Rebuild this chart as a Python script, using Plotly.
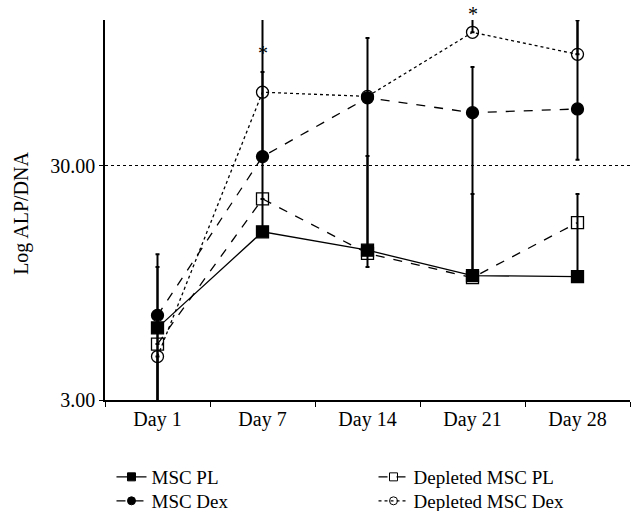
import numpy as np
import plotly.graph_objects as go

days = ["Day 1", "Day 7", "Day 14", "Day 21", "Day 28"]

msc_pl = [6.1, 15.7, 13.1, 10.2, 10.1]
msc_dex = [6.9, 32.9, 58.7, 50.7, 52.6]
dep_pl = [5.2, 21.7, 12.7, 10.0, 17.2]
dep_dex = [4.6, 62.0, 59.5, 111.8, 90.0]

# error bar bounds (upper / lower values); None = no bar
msc_pl_hi = [11.1, None, None, None, None]
msc_pl_lo = [2.0, None, None, None, None]
msc_dex_hi = [12.6, 75.7, 105.7, 79.5, 126.0]
msc_dex_lo = [2.0, 15.6, 11.1, 10.0, 31.9]
dep_pl_hi = [None, None, 33.1, 22.8, 22.8]
dep_pl_lo = [None, None, None, None, 10.1]
dep_dex_hi = [None, 200.0, None, 200.0, 200.0]
dep_dex_lo = [2.0, 33.0, None, None, None]

star_days = ["Day 7", "Day 21"]
star_text = ["*", "*"]


def plus(vals, hi):
    return [0 if h is None else h - v for v, h in zip(vals, hi)]


def minus(vals, lo):
    return [0 if l is None else v - l for v, l in zip(vals, lo)]


FONT = "Liberation Serif"
fig = go.Figure()

series = [
    ("MSC PL", msc_pl, msc_pl_hi, msc_pl_lo, "solid", "square", "legend"),
    ("MSC Dex", msc_dex, msc_dex_hi, msc_dex_lo, "dash", "circle", "legend2"),
    ("Depleted MSC PL", dep_pl, dep_pl_hi, dep_pl_lo, "dash", "square-open", "legend3"),
    ("Depleted MSC Dex", dep_dex, dep_dex_hi, dep_dex_lo, "dot", "circle-open", "legend4"),
]

for name, vals, hi, lo, dash, sym, lg in series:
    fig.add_trace(go.Scatter(
        x=days, y=vals, name=name, mode="lines+markers", showlegend=False,
        line=dict(color="black", width=1.3, dash=dash),
        marker=dict(symbol=sym, size=12, color="black",
                    line=dict(color="black", width=1.3)),
        error_y=dict(type="data", symmetric=False,
                     array=plus(vals, hi), arrayminus=minus(vals, lo),
                     color="black", thickness=2, width=2),
    ))

# legend entries with small markers
for name, vals, hi, lo, dash, sym, lg in series:
    fig.add_trace(go.Scatter(
        x=[None], y=[None], name=name, mode="lines+markers", showlegend=True,
        legend=lg,
        line=dict(color="black", width=1.3, dash=dash),
        marker=dict(symbol=sym, size=8, color="black",
                    line=dict(color="black", width=1)),
    ))

star_y = [0.913, 1.016]
for d, t, yy in zip(star_days, star_text, star_y):
    fig.add_annotation(x=d, y=yy, text=t, showarrow=False,
                       font=dict(family=FONT, size=20, color="black"),
                       xref="x", yref="paper", yanchor="middle")

# y-axis title
fig.add_annotation(x=-0.158, y=0.49, xref="paper", yref="paper", text="Log ALP/DNA",
                   textangle=-90, showarrow=False,
                   font=dict(family=FONT, size=20, color="black"),
                   xanchor="center", yanchor="middle")

legend_common = dict(orientation="v", xref="container", yref="container",
                     xanchor="left", yanchor="top",
                     font=dict(family=FONT, size=19), tracegroupgap=0,
                     itemwidth=30, bgcolor="rgba(0,0,0,0)")

fig.update_layout(
    width=632, height=511,
    margin=dict(l=105, r=2, t=20, b=111, autoexpand=False),
    plot_bgcolor="white", paper_bgcolor="white",
    font=dict(family=FONT, size=20, color="black"),
    showlegend=True,
    legend=dict(x=0.1764, y=0.1037, **legend_common),
    legend2=dict(x=0.1764, y=0.0568, **legend_common),
    legend3=dict(x=0.591, y=0.1037, **legend_common),
    legend4=dict(x=0.591, y=0.0568, **legend_common),
)

fig.update_xaxes(
    type="category", range=[-0.5, 4.5], showline=True, linecolor="black", linewidth=1.5,
    ticks="outside", tickson="boundaries", ticklen=5, tickcolor="black",
    showgrid=False, tickfont=dict(family=FONT, size=20),
)
fig.update_yaxes(
    type="log", range=[np.log10(3), 2.101],
    tickvals=[3, 30], ticktext=["3.00", "30.00"],
    showline=True, linecolor="black", linewidth=1.5,
    ticks="outside", ticklen=4, tickcolor="black", tickwidth=1,
    showgrid=True, gridcolor="black", gridwidth=1, griddash="dot",
    zeroline=False,
    tickfont=dict(family=FONT, size=20),
)

fig.write_html("out.html")
